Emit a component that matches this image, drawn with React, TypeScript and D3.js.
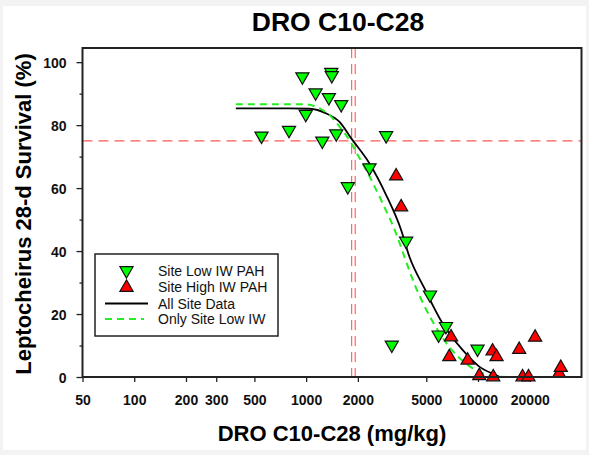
import { useEffect, useRef } from "react";
import * as d3 from "d3";

// Site Low IW PAH (green, inverted triangles)
const lowX = [550, 795, 951, 995, 1135, 1242, 1356, 1400, 1410, 1497, 1600, 1748, 2337, 2921, 3150, 3817, 5260, 5900, 6510, 9935];
const lowY = [76, 77.8, 94.8, 82.9, 89.7, 74.4, 88.2, 96.2, 95.2, 76.7, 86, 59.9, 65.9, 76.1, 9.6, 42.6, 25.5, 12.8, 15.5, 8.3];

// Site High IW PAH (red triangles)
const highX = [3340, 3570, 6810, 6970, 8700, 10170, 12150, 12260, 12820, 17360, 18150, 19660, 21490, 29630, 30310];
const highY = [64.4, 54.6, 7.0, 13.3, 5.9, 1.0, 8.8, 0.6, 7.0, 9.3, 0.6, 0.6, 13.2, 1.7, 3.6];

// fitted curves
const allFitX = [390, 803, 1048, 1310, 1565, 1830, 2337, 2921, 3570, 3990, 4875, 6225, 8130, 10170, 12715, 13300];
const allFitY = [85.3, 85.3, 85.2, 83.7, 81.0, 75.8, 67.8, 57.8, 46.7, 38.2, 28.2, 17.0, 8.6, 3.3, 0.6, 0.1];
const lowFitX = [390, 1003, 1146, 1368, 1565, 1787, 1998, 2236, 2791, 3337, 3730, 4257, 5446, 6795, 8490, 10630, 13300, 15800];
const lowFitY = [86.6, 86.6, 85.8, 83.2, 79.5, 75.2, 70.5, 65.7, 55.1, 45.6, 38.2, 29.7, 17.6, 9.6, 4.3, 1.2, 0.1, 0];

// reference lines
const refY = 75;
const refX = [1840, 1930];

const xTicks = [50, 100, 200, 300, 500, 1000, 2000, 5000, 10000, 20000];
const yTicks = [0, 20, 40, 60, 80, 100];
const yMinor = [10, 30, 50, 70, 90];

const legendItems = ["Site Low IW PAH", "Site High IW PAH", "All Site Data", "Only Site Low IW"];

const FONT = "Arial, 'Liberation Sans', sans-serif";
const GREEN = "#00ff00";
const RED = "#ff0000";

export default function App() {
    const ref = useRef<SVGSVGElement>(null);

    useEffect(() => {
        const svg = d3.select(ref.current);
        svg.selectAll("*").remove();

        const W = 589, H = 455;
        const left = 82.5, right = 581.5, top = 48, bottom = 377;

        // page frame
        svg.append("rect").attr("width", W).attr("height", H).attr("fill", "#f3f3f3");
        svg.append("rect").attr("x", 3).attr("y", 6).attr("width", W - 6).attr("height", H - 11).attr("fill", "#fff");

        const x = d3.scaleLog().domain([50, 40000]).range([left, right]);
        const y = d3.scaleLinear().domain([0, 104.5]).range([bottom, top]);

        // title
        svg.append("text")
            .attr("x", 338).attr("y", 31)
            .attr("text-anchor", "middle")
            .attr("font-family", FONT).attr("font-weight", "bold").attr("font-size", 26.5)
            .text("DRO C10-C28");

        // axes
        const xAxis = svg.append("g")
            .attr("transform", `translate(0,${bottom})`)
            .call(d3.axisBottom(x).tickValues(xTicks).tickFormat(d3.format("d")).tickSize(5).tickSizeOuter(0));
        xAxis.select(".domain").remove();
        xAxis.selectAll("line").attr("stroke", "#222").attr("stroke-width", 1.3);
        xAxis.selectAll("text")
            .attr("y", 28).attr("dy", 0)
            .attr("font-family", FONT).attr("font-weight", "bold").attr("font-size", 14).attr("fill", "#111");

        const yAxis = svg.append("g")
            .attr("transform", `translate(${left},0)`)
            .call(d3.axisLeft(y).tickValues(yTicks).tickSize(6).tickSizeOuter(0));
        yAxis.select(".domain").remove();
        yAxis.selectAll("line").attr("stroke", "#222").attr("stroke-width", 1.3);
        yAxis.selectAll("text")
            .attr("x", -16).attr("dy", "0.36em")
            .attr("font-family", FONT).attr("font-weight", "bold").attr("font-size", 14).attr("fill", "#111");

        const yMinorAxis = svg.append("g")
            .attr("transform", `translate(${left},0)`)
            .call(d3.axisLeft(y).tickValues(yMinor).tickSize(3).tickSizeOuter(0).tickFormat(() => ""));
        yMinorAxis.select(".domain").remove();
        yMinorAxis.selectAll("line").attr("stroke", "#222").attr("stroke-width", 1.3);

        // axis titles
        svg.append("text")
            .attr("x", 332).attr("y", 441)
            .attr("text-anchor", "middle")
            .attr("font-family", FONT).attr("font-weight", "bold").attr("font-size", 22)
            .text("DRO C10-C28 (mg/kg)");

        svg.append("text")
            .attr("transform", `translate(31,214) rotate(-90)`)
            .attr("text-anchor", "middle")
            .attr("font-family", FONT).attr("font-weight", "bold").attr("font-size", 22)
            .text("Leptocheirus 28-d Survival (%)");

        const plot = svg.append("g");

        // reference lines
        plot.append("line")
            .attr("x1", left).attr("x2", right)
            .attr("y1", y(refY)).attr("y2", y(refY))
            .attr("stroke", "#ff5a5a").attr("stroke-width", 1.1).attr("stroke-dasharray", "10,6");
        plot.selectAll(".vref").data(refX).enter().append("line")
            .attr("x1", d => x(d)).attr("x2", d => x(d))
            .attr("y1", top).attr("y2", bottom)
            .attr("stroke", "#ff5a5a").attr("stroke-width", 1.1).attr("stroke-dasharray", "10,6");

        // fitted curves
        const line = d3.line<[number, number]>()
            .x(d => x(d[0])).y(d => y(d[1]))
            .curve(d3.curveMonotoneX);
        plot.append("path")
            .datum(allFitX.map((v, i) => [v, allFitY[i]] as [number, number]))
            .attr("fill", "none").attr("stroke", "#000").attr("stroke-width", 1.8)
            .attr("d", line);
        plot.append("path")
            .datum(lowFitX.map((v, i) => [v, lowFitY[i]] as [number, number]))
            .attr("fill", "none").attr("stroke", "#22ee22").attr("stroke-width", 2)
            .attr("stroke-dasharray", "7,5")
            .attr("d", line);

        // markers (shifted so the box centre sits on the value)
        const tri = d3.symbol().type(d3.symbolTriangle).size(75);
        plot.selectAll(".low").data(lowX).enter().append("path")
            .attr("d", tri)
            .attr("transform", (d, i) => `translate(${x(d)},${y(lowY[i]) - 1.9}) rotate(180)`)
            .attr("fill", GREEN).attr("stroke", "#111").attr("stroke-width", 1.2);
        plot.selectAll(".high").data(highX).enter().append("path")
            .attr("d", tri)
            .attr("transform", (d, i) => `translate(${x(d)},${y(highY[i]) + 1.9})`)
            .attr("fill", RED).attr("stroke", "#111").attr("stroke-width", 1.2);

        // frame
        svg.append("rect")
            .attr("x", left).attr("y", top)
            .attr("width", right - left).attr("height", bottom - top)
            .attr("fill", "none").attr("stroke", "#222").attr("stroke-width", 2);

        // legend
        const lg = svg.append("g");
        lg.append("rect")
            .attr("x", 95).attr("y", 254).attr("width", 183).attr("height", 82)
            .attr("fill", "#fff").attr("stroke", "#222").attr("stroke-width", 1.5);
        const rows = [271, 287, 303.5, 319];
        lg.append("path").attr("d", tri)
            .attr("transform", `translate(126.5,${rows[0] - 0.5}) rotate(180)`)
            .attr("fill", GREEN).attr("stroke", "#111").attr("stroke-width", 1.2);
        lg.append("path").attr("d", tri)
            .attr("transform", `translate(126.5,${rows[1] + 0.5})`)
            .attr("fill", RED).attr("stroke", "#111").attr("stroke-width", 1.2);
        lg.append("line").attr("x1", 105).attr("x2", 148).attr("y1", rows[2]).attr("y2", rows[2])
            .attr("stroke", "#000").attr("stroke-width", 1.8);
        lg.append("line").attr("x1", 105).attr("x2", 144).attr("y1", rows[3]).attr("y2", rows[3])
            .attr("stroke", "#22ee22").attr("stroke-width", 2).attr("stroke-dasharray", "7,5");
        lg.selectAll(".lt").data(legendItems).enter().append("text")
            .attr("x", 158).attr("y", (d, i) => rows[i])
            .attr("dy", "0.36em")
            .attr("font-family", FONT).attr("font-size", 14).attr("fill", "#111")
            .text(d => d);
    }, []);

    return (
        <svg ref={ref} width={589} height={455}
            style={{ position: "absolute", left: 0, top: 0, display: "block" }}></svg>
    );
}
